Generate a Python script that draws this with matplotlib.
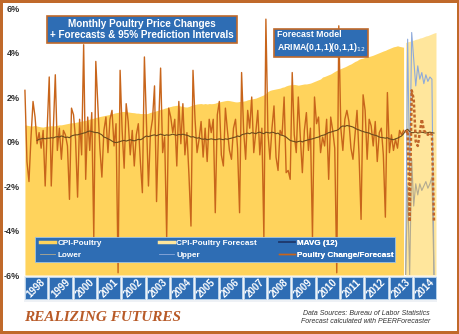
import numpy as np
import matplotlib.pyplot as plt
from matplotlib.patches import Rectangle
from matplotlib.lines import Line2D
import matplotlib.transforms as mtrans

plt.rcParams['font.family'] = ['Liberation Sans', 'DejaVu Sans']

years = [str(y) for y in range(1998, 2015)]

# monthly % change, Jan 1998 .. Aug 2013
poultry_chg = [
    2.3, -0.9, -1.8, 0.2, 1.8, 1.1, -0.1, 0.4, -0.3, 0.5, -2.0, 0.6,
    2.9, -2.0, 0.5, 3.0, -0.4, 0.6, -0.8, 0.5, 0.3, -0.2, -2.6, 1.5,
    1.2, 0.1, -2.5, 1.0, -0.6, 4.35, -1.7, 1.1, -0.4, 1.3, -4.3, 3.6,
    1.6, -0.3, -1.6, 0.5, 1.1, -0.5, 1.0, 1.4, -0.2, 0.8, -5.9, 3.2,
    0.5, -1.2, 1.7, 0.9, -0.6, 0.5, -1.1, 0.3, 0.8, -0.9, -2.3, 3.8,
    0.9, -2.0, 0.4, 1.0, 2.5, -2.7, 0.6, 3.3, -0.5, 0.2, -4.3, 1.5,
    1.1, 0.4, 1.0, -1.1, 1.8, -0.1, 1.7, -0.6, 0.4, -1.5, -3.8, 3.2,
    1.0, -0.5, 0.1, 0.9, -0.7, 0.6, -0.9, 1.0, 0.4, 1.0, -3.2, 1.2,
    1.8, -0.6, -1.1, 1.5, 0.5, -0.4, -0.8, 0.6, 1.0, -0.3, -3.2, 3.1,
    0.5, -0.8, 1.4, 0.6, 2.0, -0.5, 0.4, 1.4, -0.6, 0.6, -4.3, 5.5,
    0.4, -0.8, 0.6, 1.6, -0.7, -1.3, 0.5, 0.3, 2.0, -1.4, -1.3, -1.7,
    3.1, 0.3, -0.5, 2.0, 0.2, -1.4, 0.5, 1.3, -0.4, 0.6, -4.3, 2.0,
    0.8, 1.1, -0.5, 0.2, -0.2, 1.0, -1.7, 1.1, 0.5, -0.3, -5.9, 5.2,
    0.6, -0.4, 1.0, 1.4, 0.9, -0.3, -0.8, 0.3, 1.4, -0.6, -3.5, 2.1,
    1.4, -0.8, 1.0, 0.7, -0.2, 0.9, -0.9, 0.4, 0.6, -0.6, -3.4, 2.2,
    -0.5, 0.3, -0.4, 0.1, -0.3, 0.5, 0.3, 0.5,
]

# forecast Sep 2013 .. Nov 2014
fc_start = 188
fc_chg = [0.4, 0.5, -3.6, 2.3, 1.9, 0.0, -0.2, 0.4, 1.0, 0.5, 0.4, 0.3, 0.4, 0.3, -3.6]
fc_upper = [-6.0, 4.6, -1.5, 4.9, 3.7, 2.5, 3.4, 2.8, 3.1, 2.6, 3.0, 2.7, 2.9, 2.8, -6.0]
fc_lower = [-6.0, -2.0, -6.0, -0.8, -2.9, -1.9, -2.4, -1.9, -2.2, -2.0, -1.8, -2.1, -1.9, -1.6, -6.0]

# 12 month moving average, Jul 1998 .. Nov 2014
mavg_start = 6
mavg = [
    0.05, 0.1, 0.12, 0.15, 0.12, 0.15,
    0.15, 0.17, 0.16, 0.2, 0.22, 0.2, 0.25, 0.22, 0.18, 0.2, 0.17, 0.25,
    0.28, 0.3, 0.3, 0.33, 0.35, 0.38, 0.4, 0.45, 0.47, 0.45, 0.42, 0.4,
    0.4, 0.35, 0.3, 0.2, 0.17, 0.12, 0.08, 0.02, -0.03, -0.05, -0.03, 0.0,
    0.03, 0.05, 0.02, 0.05, 0.08, 0.05, 0.03, 0.06, 0.1, 0.08, 0.12, 0.2,
    0.25, 0.22, 0.25, 0.28, 0.3, 0.26, 0.3, 0.33, 0.3, 0.27, 0.3, 0.28,
    0.3, 0.33, 0.3, 0.28, 0.32, 0.3, 0.33, 0.3, 0.28, 0.25, 0.2, 0.22,
    0.18, 0.15, 0.17, 0.12, 0.1, 0.12, 0.08, 0.1, 0.12, 0.1, 0.08, 0.1,
    0.12, 0.1, 0.08, 0.12, 0.1, 0.13, 0.15, 0.18, 0.2, 0.25, 0.22, 0.3,
    0.33, 0.35, 0.38, 0.35, 0.4, 0.38, 0.35, 0.4, 0.42, 0.38, 0.35, 0.42,
    0.4, 0.38, 0.42, 0.4, 0.35, 0.38, 0.3, 0.28, 0.25, 0.2, 0.12, 0.05,
    0.02, 0.0, -0.03, 0.0, 0.02, -0.02, 0.03, 0.05, 0.08, 0.1, 0.12, 0.15,
    0.18, 0.2, 0.25, 0.28, 0.3, 0.35, 0.4, 0.42, 0.45, 0.48, 0.5, 0.55,
    0.65, 0.7, 0.68, 0.72, 0.7, 0.68, 0.65, 0.6, 0.55, 0.52, 0.48, 0.45,
    0.42, 0.4, 0.38, 0.33, 0.3, 0.28, 0.25, 0.2, 0.18, 0.17, 0.15, 0.17,
    0.12, 0.1, 0.08, 0.12, 0.15, 0.2, 0.25, 0.35, 0.5, 0.55, 0.45, 0.4,
    0.4, 0.42, 0.38, 0.4, 0.42, 0.4, 0.38, 0.4, 0.42, 0.4, 0.38,
]

# CPI-Poultry index (secondary axis)
cpi_hist = [
    160, 159.5, 159, 158.5, 158.7, 159.5, 158.5, 158, 157.5, 157.3, 158, 158.5,
    158.5, 159, 158.5, 159, 159.5, 160, 160, 160.5, 161, 161.5, 162, 162.5,
    162.5, 163, 163.5, 164, 164.5, 165, 165.3, 166, 167, 167.5, 168, 169,
    169.3, 170, 170.5, 171, 171.5, 172, 172.5, 173, 174, 174.5, 175, 175.5,
    176, 176, 175.5, 175.5, 175, 174.7, 174.5, 174, 174, 173.5, 173.5, 173.5,
    173.3, 174, 175, 175.5, 176, 177, 177.5, 178.7, 179, 180, 180.5, 181.5,
    182, 182.7, 183, 183.5, 183, 182.5, 182, 181.5, 181.3, 182, 183, 184,
    184.5, 185, 185.3, 185.5, 185, 185.5, 185, 185.5, 185.3, 185.5, 186, 187,
    187.5, 188, 188.5, 189, 189.3, 189, 188.5, 188, 187.5, 187.5, 188, 188,
    188.5, 189, 190, 190.5, 191, 191.5, 192, 193, 194, 195, 196, 198,
    200, 201.3, 202, 202.5, 203, 203.5, 204, 205, 205.5, 206.7, 207.5, 208,
    208, 208.5, 208, 207.5, 208, 208.5, 209, 209, 209.5, 210, 211, 212,
    213, 214, 215, 217.3, 218, 219, 220, 221, 222.5, 224, 225.3, 226.5,
    227.5, 228.5, 229.5, 230.7, 232, 233, 234.5, 236, 237, 238.7, 239.5, 240,
    241, 241.5, 242, 242.7, 243.5, 244.5, 245.5, 246.5, 247.5, 248.5, 249.3, 250.5,
    251.5, 252.5, 253.5, 254, 254.7, 254, 253.5, 253,
]
cpi_fc = [258.7, 259.5, 260, 261, 261.5, 262.5, 263, 264, 264.5, 265.5, 266.5,
          267, 268, 269, 270, 270.7]

blue = '#2E6DB4'
brown = '#C0692A'
c_cpi, c_cpi_fc = '#FFD35C', '#FFE69C'
c_chg, c_mavg = '#C8651B', '#6B4A1C'
c_up, c_low = '#8EAADB', '#B3AA90'

fig = plt.figure(figsize=(4.6, 3.34), dpi=100)
fig.patch.set_facecolor('white')
fig.patch.set_edgecolor(brown)
fig.patch.set_linewidth(3)

ax = fig.add_axes([0.052, 0.1766, 0.898, 0.7994])
ax2 = ax.twinx()
ax.set_zorder(ax2.get_zorder() + 1)
ax.patch.set_visible(False)

# CPI areas
cpi_lo, cpi_hi = -20, 300
ax2.set_ylim(cpi_lo, cpi_hi)
m_hist = np.arange(len(cpi_hist))
m_cfc = np.arange(fc_start, fc_start + len(cpi_fc))
ax2.fill_between(m_hist, cpi_lo, cpi_hist, color=c_cpi, lw=0)
ax2.fill_between(m_cfc, cpi_lo, cpi_fc, color=c_cpi_fc, lw=0)
ax2.set_yticks([])
for s in ax2.spines.values():
    s.set_visible(False)

# lines
ax.plot(np.arange(len(poultry_chg)), poultry_chg, color=c_chg, lw=1.0, zorder=3)
ax.plot(np.arange(mavg_start, mavg_start + len(mavg)), mavg, color=c_mavg, lw=0.8, zorder=4)
m_fc = np.arange(fc_start, fc_start + len(fc_chg))
ax.plot(m_fc, fc_upper, color=c_up, lw=0.8, zorder=3)
ax.plot(m_fc, fc_lower, color=c_low, lw=0.8, zorder=3)
ax.plot(m_fc, fc_chg, color='#C0662A', lw=1.8, ls=(0, (1.2, 0.8)), zorder=4)

ax.set_xlim(-0.5, 203.5)
ax2.set_xlim(-0.5, 203.5)
ax.set_ylim(-6, 6)
ticks = [6, 4, 2, 0, -2, -4, -6]
ax.set_yticks(ticks)
ax.set_yticklabels([f'{t}%' for t in ticks], fontsize=6.5, fontweight='bold', color='#333333')
ax.set_xticks([])
ax.tick_params(length=0, pad=3)
for s in ax.spines.values():
    s.set_visible(False)

# year boxes
trans = mtrans.blended_transform_factory(ax.transData, ax.transAxes)
ax.add_patch(Rectangle((-0.5, -0.1), 204, 0.097, transform=trans, clip_on=False,
                       facecolor='#EEF1F5', edgecolor='none', zorder=1))
for k, yr in enumerate(years):
    ax.add_patch(Rectangle((12 * k + 0.1, -0.09), 11.0, 0.082, transform=trans,
                           clip_on=False, facecolor=blue, edgecolor='#BDD7EE',
                           lw=0.6, zorder=2))
    ax.text(12 * k + 5.6, -0.049, yr, transform=trans, rotation=45, ha='center',
            va='center', color='white', fontsize=7, fontweight='bold', zorder=3)

# legend: blue band with three equal columns
ax.add_patch(Rectangle((0.027, 0.049), 0.871, 0.093, transform=ax.transAxes,
                       facecolor=blue, edgecolor='#9DC3E6', lw=0.6, zorder=20))
columns = [
    ([Line2D([], [], color=c_cpi, lw=2.5), Line2D([], [], color=c_low, lw=0.6)],
     ['CPI-Poultry', 'Lower']),
    ([Line2D([], [], color=c_cpi_fc, lw=2.5), Line2D([], [], color=c_up, lw=0.6)],
     ['CPI-Poultry Forecast', 'Upper']),
    ([Line2D([], [], color='#1F3B70', lw=1.2), Line2D([], [], color=c_chg, lw=1.0)],
     ['MAVG (12)', 'Poultry Change/Forecast']),
]
col_x = [0.038, 0.326, 0.618]
for cx, (hs, ls) in zip(col_x, columns):
    lg = ax.legend(hs, ls, loc='upper left', bbox_to_anchor=(cx, 0.133),
                   frameon=False, borderpad=0, labelspacing=0.5, handlelength=1.9,
                   handletextpad=0.25, borderaxespad=0,
                   prop={'size': 5.9, 'weight': 'bold'})
    for t in lg.get_texts():
        t.set_color('white')
    lg.set_zorder(21)
    ax.add_artist(lg)

# title boxes
ax.text(0.286, 0.921, 'Monthly Poultry Price Changes\n+ Forecasts & 95% Prediction Intervals',
        transform=ax.transAxes, ha='center', va='center', color='white',
        fontweight='bold', fontsize=7.2, linespacing=1.15, zorder=22,
        bbox=dict(boxstyle='square,pad=0.3', fc=blue, ec=brown, lw=1.2))
ax.text(0.612, 0.873, 'Forecast Model\nARIMA(0,1,1)(0,1,1)$_{12}$',
        transform=ax.transAxes, ha='left', va='center', color='white',
        fontweight='bold', fontsize=6.3, linespacing=1.15, zorder=22,
        bbox=dict(boxstyle='square,pad=0.35', fc=blue, ec=brown, lw=1.2))

fig.text(0.052, 0.05, 'REALIZING FUTURES', family='Liberation Serif', weight='bold',
         style='italic', size=11, color='#B85A27', va='center', ha='left')
fig.text(0.796, 0.048, 'Data Sources: Bureau of Labor Statistics\nForecast calculated with PEERForecaster',
         ha='center', va='center', style='italic', size=5, color='#333333')

fig.savefig('out.png', dpi=100)
